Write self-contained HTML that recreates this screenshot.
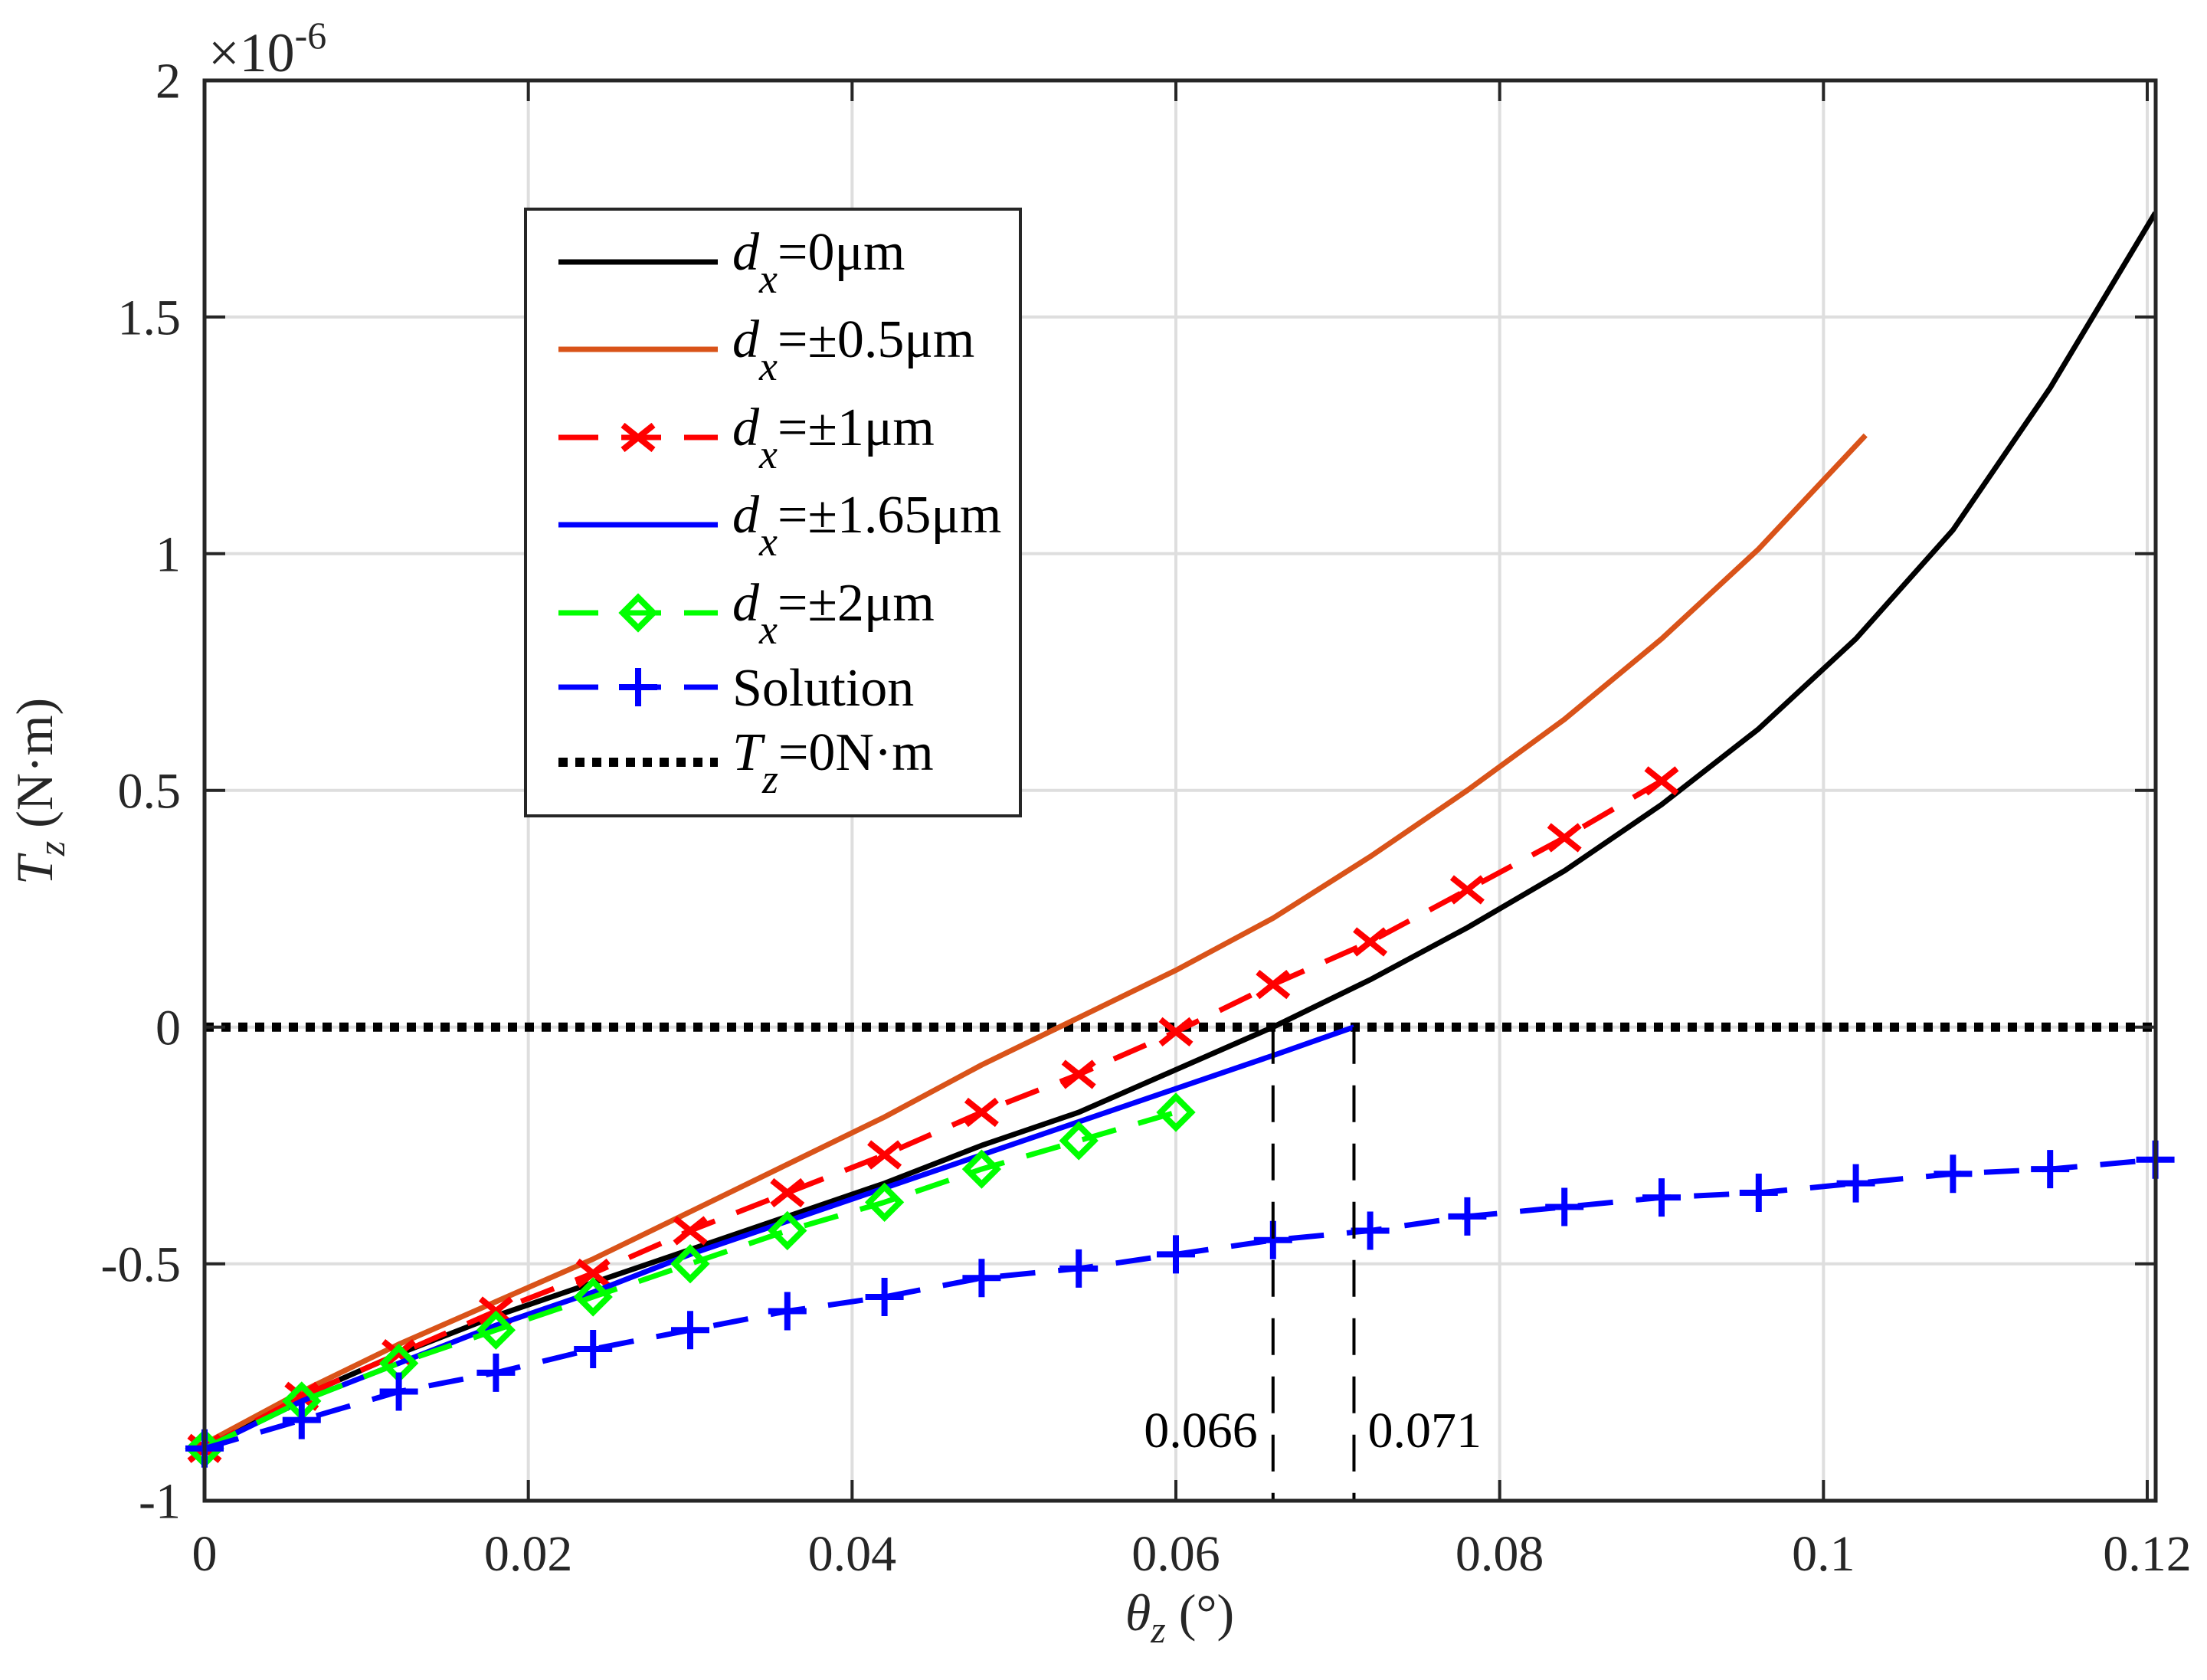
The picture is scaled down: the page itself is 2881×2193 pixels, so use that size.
<!DOCTYPE html>
<html><head><meta charset="utf-8">
<style>
html,body{margin:0;padding:0;background:#fff;}
svg{display:block;font-family:"Liberation Serif",serif;}
</style></head>
<body>
<svg id="chart" width="2881" height="2193" viewBox="0 0 2881 2193" xmlns="http://www.w3.org/2000/svg">
<rect width="2881" height="2193" fill="#fff"/>
<g id="grid"></g>
<g id="series"></g>
<g id="axes"></g>
<text transform="translate(68,1033) rotate(-90)" text-anchor="middle" font-size="68" fill="#262626"><tspan font-style="italic">T</tspan><tspan font-style="italic" font-size="50" dy="16">z</tspan><tspan dy="-16"> (N·m)</tspan></text>
<text x="1540" y="2128" text-anchor="middle" font-size="68" fill="#262626"><tspan font-style="italic">θ</tspan><tspan font-style="italic" font-size="50" dy="16">z</tspan><tspan dy="-16"> (°)</tspan></text>
<text x="272" y="93" font-size="72" fill="#262626">×10<tspan font-size="50" dy="-30">-6</tspan></text>
<g id="legend"></g>
</svg>
<script>
const xTicks=[0,0.02,0.04,0.06,0.08,0.1,0.12];
const xTickLabels=["0","0.02","0.04","0.06","0.08","0.1","0.12"];
const yTicks=[-1,-0.5,0,0.5,1,1.5,2];
const yTickLabels=["-1","-0.5","0","0.5","1","1.5","2"];
const thetaStd=[0,0.006,0.012,0.018,0.024,0.03,0.036,0.042,0.048,0.054,0.06,0.066,0.072,0.078,0.084,0.09,0.096,0.102,0.108,0.114,0.1205];
const tzDx0=[-0.89,-0.78,-0.69,-0.61,-0.54,-0.47,-0.40,-0.33,-0.25,-0.18,-0.09,0.0,0.1,0.21,0.33,0.47,0.63,0.82,1.05,1.35,1.72];
const thetaDx05=[0,0.006,0.012,0.018,0.024,0.03,0.036,0.042,0.048,0.054,0.06,0.066,0.072,0.078,0.084,0.09,0.096,0.1026];
const tzDx05=[-0.88,-0.77,-0.67,-0.58,-0.49,-0.39,-0.29,-0.19,-0.08,0.02,0.12,0.23,0.36,0.50,0.65,0.82,1.01,1.25];
const thetaDx1=[0,0.006,0.012,0.018,0.024,0.03,0.036,0.042,0.048,0.054,0.06,0.066,0.072,0.078,0.084,0.09];
const tzDx1=[-0.89,-0.78,-0.69,-0.60,-0.52,-0.43,-0.35,-0.27,-0.18,-0.10,-0.01,0.09,0.18,0.29,0.40,0.52];
const thetaDx165=[0,0.006,0.012,0.018,0.024,0.03,0.036,0.042,0.048,0.054,0.06,0.066,0.071];
const tzDx165=[-0.89,-0.79,-0.71,-0.63,-0.56,-0.48,-0.41,-0.34,-0.27,-0.20,-0.13,-0.06,0.0];
const thetaDx2=[0,0.006,0.012,0.018,0.024,0.03,0.036,0.042,0.048,0.054,0.06];
const tzDx2=[-0.89,-0.79,-0.71,-0.64,-0.57,-0.50,-0.43,-0.37,-0.30,-0.24,-0.18];
const tzSolution=[-0.89,-0.83,-0.77,-0.73,-0.68,-0.64,-0.60,-0.57,-0.53,-0.51,-0.48,-0.45,-0.43,-0.40,-0.38,-0.36,-0.35,-0.33,-0.31,-0.30,-0.28];
const markerLines=[0.066,0.071];
const markerLabels=["0.066","0.071"];

const X0=267,X1=2803,XMAX_V=0.12,RIGHT=2814,TOP=105,BOTTOM=1959;
const Y0=1340.7,YU=618;
const xs=v=>X0+(X1-X0)*v/XMAX_V;
const ys=v=>Y0-YU*v;
const NS="http://www.w3.org/2000/svg";
function mk(tag,attrs,parent){const e=document.createElementNS(NS,tag);for(const k in attrs)e.setAttribute(k,attrs[k]);parent.appendChild(e);return e;}
const grid=document.getElementById('grid'),axes=document.getElementById('axes'),ser=document.getElementById('series'),leg=document.getElementById('legend');

xTicks.forEach((t,i)=>{
  const g=mk('line',{x1:xs(t),x2:xs(t),y1:TOP,y2:BOTTOM,stroke:'#dedede','stroke-width':4},grid);
  
  
  const tk=mk('line',{x1:xs(t),x2:xs(t),y1:BOTTOM,y2:BOTTOM-27,stroke:'#262626','stroke-width':4},axes);
  
  
  const tk2=mk('line',{x1:xs(t),x2:xs(t),y1:TOP,y2:TOP+27,stroke:'#262626','stroke-width':4},axes);
  
  
  const lb=mk('text',{x:xs(t),y:2050,'text-anchor':'middle','font-size':66,fill:'#262626'},axes);
  lb.textContent=xTickLabels[i];
  
  
});
yTicks.forEach((t,i)=>{
  const g=mk('line',{x1:X0,x2:RIGHT,y1:ys(t),y2:ys(t),stroke:'#dedede','stroke-width':4},grid);
  
  
  const tk=mk('line',{x1:X0,x2:X0+27,y1:ys(t),y2:ys(t),stroke:'#262626','stroke-width':4},axes);
  
  
  const tk2=mk('line',{x1:RIGHT,x2:RIGHT-27,y1:ys(t),y2:ys(t),stroke:'#262626','stroke-width':4},axes);
  
  
  const lb=mk('text',{x:236,y:ys(t)+23,'text-anchor':'end','font-size':66,fill:'#262626'},axes);
  lb.textContent=yTickLabels[i];
  
  
});
const frame=mk('rect',{x:X0,y:TOP,width:RIGHT-X0,height:BOTTOM-TOP,fill:'none',stroke:'#262626','stroke-width':5},axes);



function pts(xa,ya){return xa.map((x,i)=>xs(x)+','+ys(ya[i])).join(' ');}
function line(xa,ya,color,dash,name){
  const p=mk('polyline',{points:pts(xa,ya),fill:'none',stroke:color,'stroke-width':7,'stroke-linejoin':'round'},ser);
  if(dash)p.setAttribute('stroke-dasharray',dash);
  
  
}
function marker(type,cx,cy,color,parent,name){
  const s=20;let d;
  if(type==='x')d=`M${cx-s},${cy-s*0.8}L${cx+s},${cy+s*0.8}M${cx-s},${cy+s*0.8}L${cx+s},${cy-s*0.8}`;
  else if(type==='+')d=`M${cx-s*1.25},${cy}L${cx+s*1.25},${cy}M${cx},${cy-s*1.25}L${cx},${cy+s*1.25}`;
  else d=`M${cx},${cy-s}L${cx+s},${cy}L${cx},${cy+s}L${cx-s},${cy}Z`;
  const m=mk('path',{d:d,fill:'none',stroke:color,'stroke-width':8},parent);
  
  
}

const zl=mk('line',{x1:X0,x2:RIGHT,y1:ys(0),y2:ys(0),stroke:'#000','stroke-width':12,'stroke-dasharray':'12 10'},ser);



line(thetaStd,tzDx0,'#000',null,'series-dx-0');
line(thetaDx05,tzDx05,'#d95319',null,'series-dx-0-5');
line(thetaDx1,tzDx1,'#ff0000','46 30','series-dx-1');
thetaDx1.forEach((x,i)=>marker('x',xs(x),ys(tzDx1[i]),'#ff0000',ser,'marker-dx-1'));
line(thetaDx165,tzDx165,'#0000ff',null,'series-dx-1-65');
line(thetaDx2,tzDx2,'#00ff00','46 30','series-dx-2');
thetaDx2.forEach((x,i)=>marker('d',xs(x),ys(tzDx2[i]),'#00ff00',ser,'marker-dx-2'));
line(thetaStd,tzSolution,'#0000ff','46 30','series-solution');
thetaStd.forEach((x,i)=>marker('+',xs(x),ys(tzSolution[i]),'#0000ff',ser,'marker-solution'));

markerLines.forEach((v,i)=>{
  const l=mk('line',{x1:xs(v),x2:xs(v),y1:ys(0),y2:BOTTOM,stroke:'#000','stroke-width':4,'stroke-dasharray':'48 28'},ser);
  
  
  const t=mk('text',{x:i===0?xs(v)-20:xs(v)+18,y:1889,'text-anchor':i===0?'end':'start','font-size':66,fill:'#000'},ser);
  t.textContent=markerLabels[i];
  
  
});

const LX=686,LY=273,LW=1332-686,LH=1065-273;
const lbox=mk('rect',{x:LX,y:LY,width:LW,height:LH,fill:'#fff',stroke:'#262626','stroke-width':4},leg);


const entries=[
 {c:'#000',dash:null,m:null,label:['d','x','=0μm']},
 {c:'#d95319',dash:null,m:null,label:['d','x','=±0.5μm']},
 {c:'#ff0000',dash:'52 30',m:'x',label:['d','x','=±1μm']},
 {c:'#0000ff',dash:null,m:null,label:['d','x','=±1.65μm']},
 {c:'#00ff00',dash:'52 30',m:'d',label:['d','x','=±2μm']},
 {c:'#0000ff',dash:'52 30',m:'+',label:null,text:'Solution'},
 {c:'#000',dash:'12 10',m:null,label:['T','z','=0N·m'],dot:true}
];
const rowY=[342,456,571,685,800,897,995];
entries.forEach((e,i)=>{
  const y=rowY[i];
  const l=mk('line',{x1:LX+43,x2:LX+251,y1:y,y2:y,stroke:e.c,'stroke-width':e.dot?12:7},leg);
  if(e.dash)l.setAttribute('stroke-dasharray',e.dash);
  
  
  if(e.m)marker(e.m,LX+147,y,e.c,leg,'legend-marker');
  const t=mk('text',{x:956,y:e.label?y+10:y+24,'font-size':70,fill:'#000'},leg);
  
  
  if(e.label){
    t.innerHTML=`<tspan font-style="italic">${e.label[0]}</tspan><tspan font-style="italic" font-size="54" dy="30">${e.label[1]}</tspan><tspan dy="-30">${e.label[2]}</tspan>`;
  } else t.textContent=e.text;
});
</script>
</body></html>
